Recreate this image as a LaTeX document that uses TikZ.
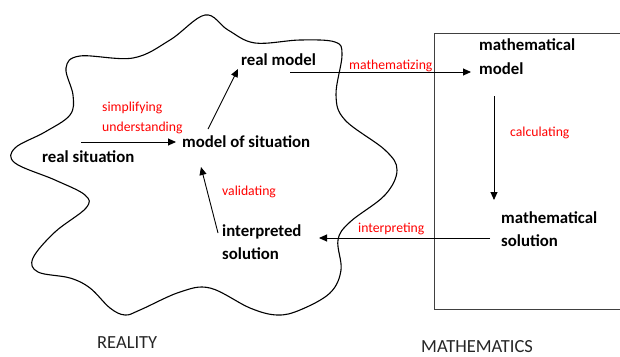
\documentclass[tikz,border=0pt]{standalone}
\usepackage{fontspec}
\setmainfont{Carlito}
\usetikzlibrary{arrows.meta,calc}
\tikzset{
  term/.style={font=\fontsize{16.8}{23.5}\selectfont\bfseries, inner sep=0pt, anchor=west, align=left},
  lbl/.style={font=\fontsize{13.7}{16}\selectfont, text=red, inner sep=0pt, anchor=west},
  big/.style={font=\fontsize{18.5}{20}\selectfont, inner sep=0pt, anchor=west, text=black!85},
  arr/.style={line width=0.9pt, -{Triangle[length=8pt,width=7pt]}},
  cloud/.style={line width=1.1pt, black},
  boxline/.style={line width=1pt, black!75}
}
\begin{document}
\begin{tikzpicture}[x=1pt,y=-1pt]
\useasboundingbox (0,0) rectangle (620,356);
% cloud
\draw[cloud] plot[smooth cycle, tension=0.6] coordinates {
 (66,68) (80,56) (133,58) (170,40) (205,15) (228,30) (255,43) (300,40)
 (335,42) (342,55) (336,95) (345,120) (385,150) (397,170) (385,195)
 (350,222) (338,240) (341,270) (330,293) (300,310) (277,315) (250,308)
 (210,288) (180,292) (140,310) (125,315) (110,308) (90,288) (70,278)
 (38,272) (33,258) (55,232) (86,208) (85,195) (55,180) (15,163) (15,148)
 (45,132) (70,115) (73,95)};
% box
\draw[boxline] (625,33) -- (434,33) -- (434,309) -- (625,309);
% terms
\node[term] (rs) at (42,157) {real situation};
\node[term] (mos) at (182,142) {model of situation};
\node[term] (rm) at (241,60) {real model};
\node[term] (mm) at (479,56.5) {mathematical\\model};
\node[term] (ms) at (501,229) {mathematical\\solution};
\node[term] (is) at (222,242) {interpreted\\solution};
% labels
\node[lbl] (l1) at (102,108) {simplifying};
\node[lbl] (l2) at (102,128) {understanding};
\node[lbl] (l3) at (222,192) {validating};
\node[lbl] (l4) at (349,66) {mathematizing};
\node[lbl] (l5) at (510,133) {calculating};
\node[lbl] (l6) at (358,229) {interpreting};
\node[big] (reality) at (97,343) {REALITY};
\node[big] (maths) at (421,346.5) {MATHEMATICS};
% arrows
\draw[arr] ($(rs.west)+(39,-15)$) -- ($(mos.west)+(-6,0)$);
\draw[arr] ($(mos.west)+(26,-13)$) -- ($(rm.west)+(-3,9)$);
\draw[arr] ($(rm.west)+(49,12)$) -- ($(mm.west)+(-8,15.5)$);
\draw[arr] ($(mm.west)+(15,39.5)$) -- ($(ms.west)+(-7,-29)$);
\draw[arr] ($(ms.west)+(-11,9)$) -- ($(is.west)+(97,-4)$);
\draw[arr] ($(is.west)+(-4,-9)$) -- ($(mos.west)+(19,25)$);
\end{tikzpicture}
\end{document}
